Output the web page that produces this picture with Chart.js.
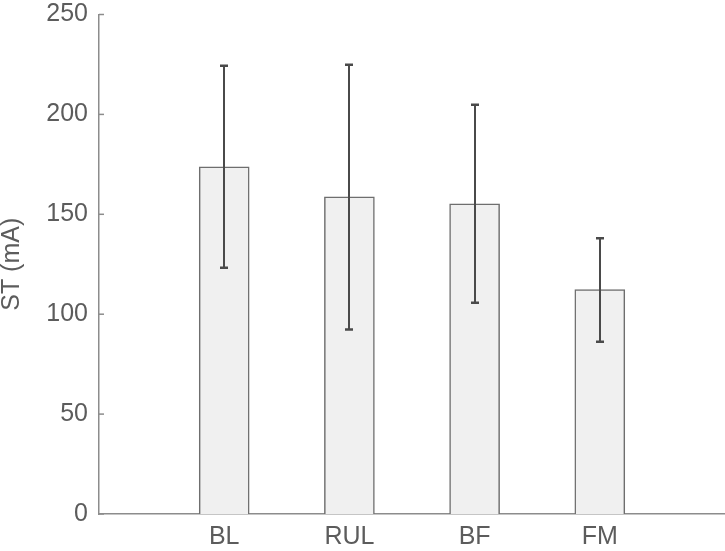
<!DOCTYPE html>
<html>
<head>
<meta charset="utf-8">
<script src="https://cdn.jsdelivr.net/npm/chart.js@4"></script>
<style>
  body { margin: 0; background: #fff; }
</style>
</head>
<body>
<canvas id="chartST" width="725" height="551"></canvas>
<script>
// values
const categories = ['BL', 'RUL', 'BF', 'FM'];
const means = [173.7, 158.7, 155.3, 112.3];
const errLow = [123.3, 92.3, 105.7, 86.2];
const errHigh = [224.3, 224.8, 204.8, 138.0];
const yTicks = [0, 50, 100, 150, 200, 250];

// empty slots at both ends so the axis runs one step past the outer bars
const labels = [''].concat(categories, ['']);
const padded = [null].concat(means, [null]);
const lowPadded = [null].concat(errLow, [null]);
const highPadded = [null].concat(errHigh, [null]);

const textColor = '#5c5c5c';
const axisColor = '#8c8c8c';
const fontSpec = { family: '"Liberation Sans", Arial, sans-serif', size: 25, lineHeight: 1 };

// error bars + inward y tick marks
const extras = {
    id: 'extras',
    afterDatasetsDraw(chart) {
        const ctx = chart.ctx;
        const meta = chart.getDatasetMeta(0);
        const y = chart.scales.y;
        ctx.save();
        ctx.strokeStyle = '#4a4a4a';
        meta.data.forEach((bar, i) => {
            if (lowPadded[i] == null) return;
            const x = Math.round(bar.x);
            const yLo = y.getPixelForValue(lowPadded[i]);
            const yHi = y.getPixelForValue(highPadded[i]);
            ctx.lineWidth = 2;
            ctx.beginPath();
            ctx.moveTo(x, yLo);
            ctx.lineTo(x, yHi);
            ctx.stroke();
            ctx.lineWidth = 2.5;
            ctx.beginPath();
            ctx.moveTo(x - 4, yLo);
            ctx.lineTo(x + 4, yLo);
            ctx.moveTo(x - 4, yHi);
            ctx.lineTo(x + 4, yHi);
            ctx.stroke();
        });
        ctx.strokeStyle = axisColor;
        ctx.lineWidth = 1.5;
        const left = chart.chartArea.left;
        yTicks.forEach(t => {
            const py = y.getPixelForValue(t);
            ctx.beginPath();
            ctx.moveTo(left, py);
            ctx.lineTo(left + 5, py);
            ctx.stroke();
        });
        ctx.restore();
    }
};

new Chart('chartST', {
    type: 'bar',
    data: {
        labels: labels,
        datasets: [{
            data: padded,
            backgroundColor: '#f0f0f0',
            borderColor: '#6e6e6e',
            borderWidth: 1.5,
            barThickness: 50
        }]
    },
    options: {
        responsive: false,
        animation: false,
        layout: { padding: { top: 14.5, right: 0, bottom: 0, left: 0 } },
        plugins: {
            legend: { display: false },
            tooltip: { enabled: false }
        },
        scales: {
            x: {
                offset: false,
                grid: { display: false, drawTicks: false },
                border: { color: axisColor, width: 1.5 },
                ticks: { color: textColor, font: fontSpec, padding: 11, maxRotation: 0, autoSkip: false },
                afterFit: axis => {
                    axis.height = 37;
                    axis.paddingLeft = 0;
                    axis.paddingRight = 0;
                }
            },
            y: {
                min: 0,
                max: 250,
                afterBuildTicks: axis => { axis.ticks = yTicks.map(v => ({ value: v })); },
                grid: { display: false, drawTicks: false },
                border: { color: axisColor, width: 1.5 },
                ticks: { color: textColor, font: fontSpec, padding: 11 },
                title: {
                    display: true,
                    text: 'ST (mA)',
                    color: textColor,
                    font: fontSpec,
                    padding: 0
                },
                afterFit: axis => {
                    axis.width = 99;
                    axis.paddingTop = 0;
                    axis.paddingBottom = 0;
                }
            }
        }
    },
    plugins: [extras]
});
</script>
</body>
</html>
